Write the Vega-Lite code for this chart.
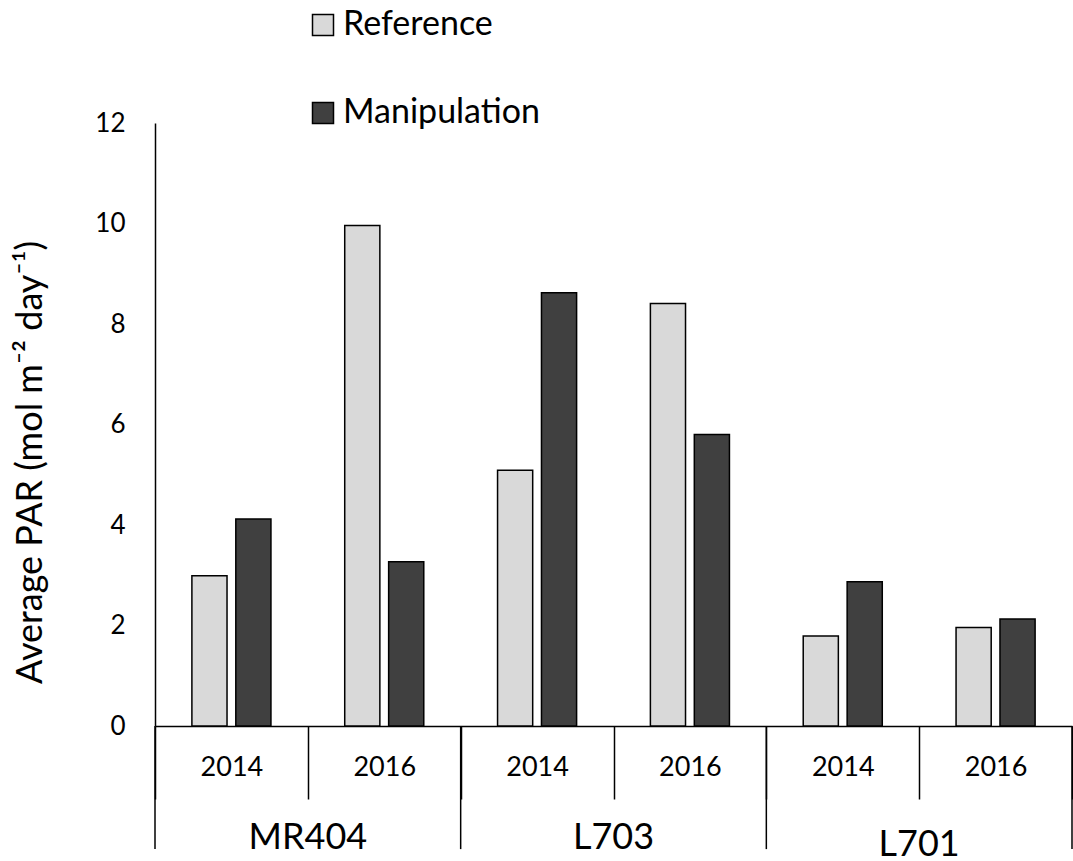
{
  "$schema": "https://vega.github.io/schema/vega-lite/v6.json",
  "width": 917,
  "height": 603,
  "autosize": {"type": "none"},
  "padding": {"left": 155, "top": 123, "right": 1, "bottom": 135},
  "background": "white",
  "config": {
    "view": {"stroke": null},
    "font": "Lato",
    "axis": {"grid": false}
  },
  "datasets": {
    "bars": [
      {"site": "MR404", "year": "2014", "cat": "MR404 2014", "series": "Reference", "value": 2.99},
      {"site": "MR404", "year": "2014", "cat": "MR404 2014", "series": "Manipulation", "value": 4.12},
      {"site": "MR404", "year": "2016", "cat": "MR404 2016", "series": "Reference", "value": 9.96},
      {"site": "MR404", "year": "2016", "cat": "MR404 2016", "series": "Manipulation", "value": 3.27},
      {"site": "L703", "year": "2014", "cat": "L703 2014", "series": "Reference", "value": 5.09},
      {"site": "L703", "year": "2014", "cat": "L703 2014", "series": "Manipulation", "value": 8.62},
      {"site": "L703", "year": "2016", "cat": "L703 2016", "series": "Reference", "value": 8.41},
      {"site": "L703", "year": "2016", "cat": "L703 2016", "series": "Manipulation", "value": 5.80},
      {"site": "L701", "year": "2014", "cat": "L701 2014", "series": "Reference", "value": 1.79},
      {"site": "L701", "year": "2014", "cat": "L701 2014", "series": "Manipulation", "value": 2.87},
      {"site": "L701", "year": "2016", "cat": "L701 2016", "series": "Reference", "value": 1.96},
      {"site": "L701", "year": "2016", "cat": "L701 2016", "series": "Manipulation", "value": 2.13}
    ],
    "sites": [
      {"site": "MR404", "first": "MR404 2014", "mid": "MR404 2016"},
      {"site": "L703", "first": "L703 2014", "mid": "L703 2016"},
      {"site": "L701", "first": "L701 2014", "mid": "L701 2016"}
    ]
  },
  "layer": [
    {
      "data": {"name": "bars"},
      "mark": {"type": "bar", "stroke": "black", "strokeWidth": 1.5},
      "encoding": {
        "x": {
          "field": "cat",
          "type": "nominal",
          "scale": {
            "domain": ["MR404 2014", "MR404 2016", "L703 2014", "L703 2016", "L701 2014", "L701 2016"],
            "paddingInner": 0,
            "paddingOuter": 0
          },
          "axis": {
            "title": null,
            "tickBand": "extent",
            "tickSize": 73,
            "tickColor": "black",
            "tickWidth": 1.5,
            "labelExpr": "split(datum.label, ' ')[1]",
            "labelFontSize": 27,
            "labelFont": "Lato",
            "labelColor": "black",
            "labelPadding": -32,
            "labelBaseline": "middle",
            "labelAngle": 0,
            "domainColor": "black",
            "domainWidth": 1.5
          }
        },
        "xOffset": {
          "field": "series",
          "type": "nominal",
          "scale": {"domain": ["Reference", "Manipulation"], "paddingInner": 0.2, "paddingOuter": 0.84}
        },
        "y": {
          "field": "value",
          "type": "quantitative",
          "scale": {"domain": [0, 12], "nice": false},
          "axis": {
            "title": "Average PAR (mol m⁻² day⁻¹)",
            "values": [0, 2, 4, 6, 8, 10, 12],
            "ticks": false,
            "labelFontSize": 26,
            "labelFont": "Lato",
            "labelColor": "black",
            "labelPadding": 30,
            "domainColor": "black",
            "domainWidth": 1.5,
            "titleFontSize": 36,
            "titleFont": "Lato",
            "titleFontWeight": "normal",
            "titleColor": "black",
            "titleX": -125,
            "titleY": 339,
            "titleAngle": -90,
            "titleBaseline": "middle",
            "titleAlign": "center"
          }
        },
        "color": {
          "field": "series",
          "type": "nominal",
          "scale": {"domain": ["Reference", "Manipulation"], "range": ["#d9d9d9", "#404040"]},
          "legend": {
            "orient": "none",
            "legendX": 151,
            "legendY": -115,
            "title": null,
            "symbolType": "square",
            "symbolSize": 441,
            "symbolStrokeColor": "black",
            "symbolStrokeWidth": 1.5,
            "labelFontSize": 34,
            "labelFont": "Lato",
            "labelColor": "black",
            "labelLimit": 0,
            "rowPadding": 54,
            "labelOffset": 3,
            "padding": 0
          }
        }
      }
    },
    {
      "data": {"name": "sites"},
      "mark": {"type": "rule", "stroke": "black", "strokeWidth": 1.5},
      "encoding": {
        "x": {"field": "first", "type": "nominal", "bandPosition": 0},
        "y": {"datum": 0, "type": "quantitative"},
        "y2": {"datum": -2.45}
      }
    },
    {
      "data": {"name": "sites"},
      "transform": [{"filter": "datum.site === 'L701'"}],
      "mark": {"type": "rule", "stroke": "black", "strokeWidth": 1.5},
      "encoding": {
        "x": {"field": "mid", "type": "nominal", "bandPosition": 1},
        "y": {"datum": 0, "type": "quantitative"},
        "y2": {"datum": -2.45}
      }
    },
    {
      "data": {"name": "sites"},
      "transform": [{"filter": "datum.site !== 'L701'"}],
      "mark": {"type": "text", "fontSize": 36, "font": "Lato", "baseline": "alphabetic", "align": "center", "color": "black"},
      "encoding": {
        "x": {"field": "mid", "type": "nominal", "bandPosition": 0},
        "y": {"datum": -2.45, "type": "quantitative"},
        "text": {"field": "site"}
      }
    },
    {
      "data": {"name": "sites"},
      "transform": [{"filter": "datum.site === 'L701'"}],
      "mark": {"type": "text", "fontSize": 36, "font": "Lato", "baseline": "alphabetic", "align": "center", "color": "black"},
      "encoding": {
        "x": {"field": "mid", "type": "nominal", "bandPosition": 0},
        "y": {"datum": -2.59, "type": "quantitative"},
        "text": {"field": "site"}
      }
    }
  ]
}
